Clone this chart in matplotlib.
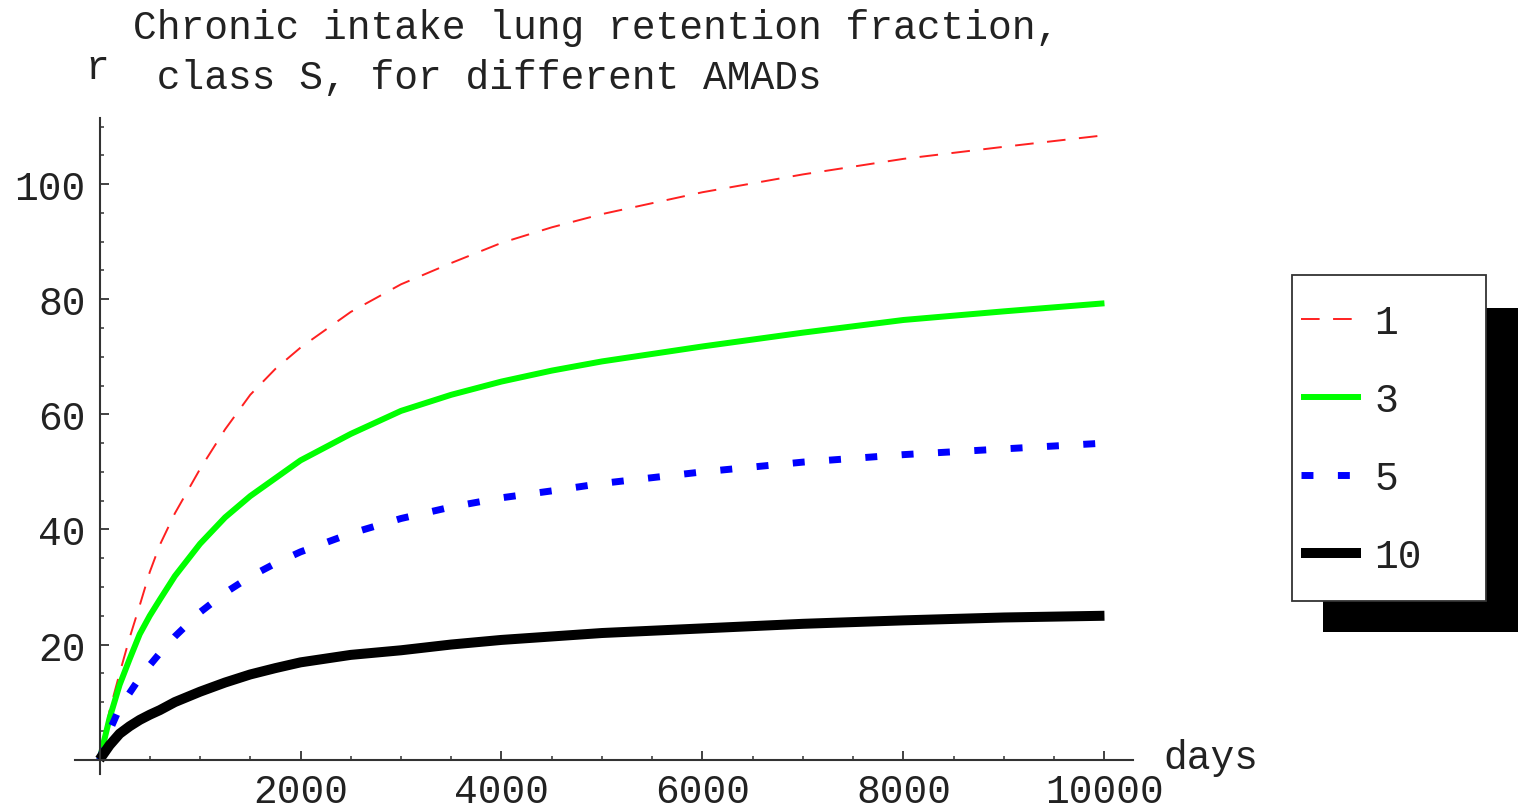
import matplotlib
matplotlib.use("Agg")
import matplotlib.pyplot as plt
from matplotlib.patches import Rectangle
from matplotlib.ticker import FixedLocator, MultipleLocator

# ---- data ----
days = [0, 100, 200, 300, 400, 500, 600, 750, 1000, 1250, 1500, 1750, 2000,
        2500, 3000, 3500, 4000, 4500, 5000, 6000, 7000, 8000, 9000, 10000]
r_amad1 = [0, 8.5, 15.0, 21.2, 26.8, 32.6, 37.3, 42.8, 50.5, 57.4, 63.4, 67.9, 71.6,
           77.8, 82.6, 86.3, 89.8, 92.5, 94.8, 98.6, 101.7, 104.4, 106.5, 108.5]
r_amad3 = [0, 7.2, 13.0, 17.5, 21.8, 25.0, 27.8, 31.9, 37.5, 42.1, 45.8, 48.9, 52.0,
           56.6, 60.6, 63.4, 65.7, 67.6, 69.2, 71.8, 74.2, 76.4, 77.9, 79.3]
r_amad5 = [0, 5.0, 9.0, 11.6, 14.2, 16.4, 18.5, 21.4, 25.6, 29.0, 31.8, 34.1, 36.1,
           39.3, 41.9, 43.9, 45.5, 46.7, 48.0, 50.0, 51.7, 53.0, 54.0, 55.0]
r_amad10 = [0, 2.5, 4.5, 5.8, 6.9, 7.8, 8.6, 10.0, 11.8, 13.4, 14.8, 15.9, 16.9,
            18.2, 19.0, 20.0, 20.8, 21.4, 22.0, 22.8, 23.6, 24.2, 24.7, 25.0]
legend_labels = ["1", "3", "5", "10"]
x_major = [2000, 4000, 6000, 8000, 10000]
y_major = [20, 40, 60, 80, 100]
title = "Chronic intake lung retention fraction,\n class S, for different AMADs"

# ---- figure ----
W, H = 1518, 812
fig = plt.figure(figsize=(W / 100, H / 100), dpi=100)
FONT = "Liberation Mono"
FS = 28.5
TXT = "#222222"
plt.rcParams["lines.scale_dashes"] = False


def fx(px):
    return px / W


def fy(py):
    return 1 - py / H


# axes placement (pixel geometry of reference)
left_px, right_px = 75.4, 1133.0
top_px, bot_px = 119.0, 775.0
ax = fig.add_axes([fx(left_px), fy(bot_px), (right_px - left_px) / W, (bot_px - top_px) / H])
ax.set_xlim(-240, 10284)
ax.set_ylim(-2.5, 111.5)
ax.patch.set_visible(False)
ax.set_zorder(3)

l1, = ax.plot(days, r_amad1, color="#ff2020", lw=1.4, dashes=(13.4, 9.7),
              solid_capstyle="butt", dash_capstyle="butt")
l3, = ax.plot(days, r_amad3, color="#00ff00", lw=4.3, solid_capstyle="butt")
l5, = ax.plot(days, r_amad5, color="#0000ff", lw=5.0, dashes=(8.6, 17.6),
              dash_capstyle="butt")
l10, = ax.plot(days, r_amad10, color="#000000", lw=7.2, solid_capstyle="butt",
               clip_on=False)

# Mathematica-style crossing axes
for s in ("top", "right"):
    ax.spines[s].set_visible(False)
ax.spines["left"].set_position(("data", 0))
ax.spines["bottom"].set_position(("data", 0))
for s in ("left", "bottom"):
    ax.spines[s].set_linewidth(1.5)
    ax.spines[s].set_color("#333333")

ax.xaxis.set_major_locator(FixedLocator(x_major))
ax.xaxis.set_minor_locator(MultipleLocator(500))
ax.yaxis.set_major_locator(FixedLocator(y_major))
ax.yaxis.set_minor_locator(MultipleLocator(5))
ax.set_xticklabels([str(v) for v in x_major])
ax.set_yticklabels([str(v) for v in y_major])
ax.tick_params(which="major", direction="in", length=6.2, width=1.3, color="#333333",
               labelsize=FS, labelcolor=TXT)
ax.tick_params(which="minor", direction="in", length=3.2, width=1.1, color="#333333")
ax.tick_params(axis="x", which="major", pad=9)
ax.tick_params(axis="y", which="major", pad=10)
for lab in ax.get_xticklabels() + ax.get_yticklabels():
    lab.set_fontfamily(FONT)

# axis labels
fig.text(fx(97), fy(68), "r", family=FONT, fontsize=FS, color=TXT, ha="center", va="center")
fig.text(fx(1163), fy(758), "days", family=FONT, fontsize=FS, color=TXT, ha="left", va="center")

# title
fig.text(fx(133), fy(9), title, family=FONT, fontsize=FS, color=TXT, ha="left", va="top",
         linespacing=1.4)

# legend box with black drop shadow
fig.patches.append(Rectangle((fx(1322.7), fy(633)), (W + 5 - 1322.7) / W, (633 - 309.3) / H,
                             transform=fig.transFigure, facecolor="black", edgecolor="none",
                             zorder=1))
fig.patches.append(Rectangle((fx(1291.7), fy(602)), (1485.7 - 1291.7) / W, (602 - 275.7) / H,
                             transform=fig.transFigure, facecolor="white", edgecolor="#333333",
                             linewidth=1.3, zorder=2))
leg = ax.legend([l1, l3, l5, l10], legend_labels, loc="upper left",
                bbox_to_anchor=(fx(1301), fy(304)), bbox_transform=fig.transFigure,
                frameon=False, prop={"family": FONT, "size": FS},
                handlelength=1.51, handletextpad=0.35, labelspacing=1.01,
                borderpad=0, borderaxespad=0)
for t in leg.get_texts():
    t.set_color(TXT)
leg.set_zorder(5)

fig.savefig("out.png", dpi=100)
